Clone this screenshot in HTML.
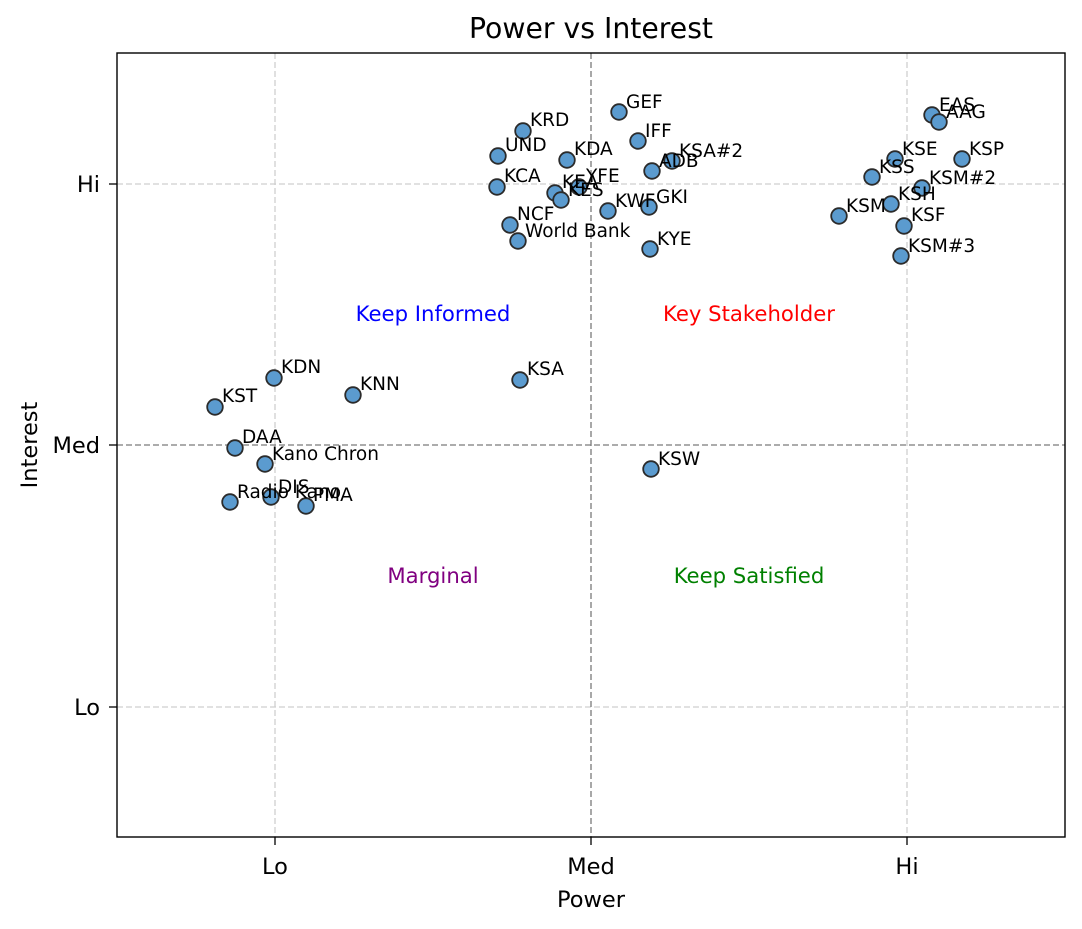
<!DOCTYPE html>
<html><head><meta charset="utf-8"><style>
html,body{margin:0;padding:0;background:#fff}
svg{display:block;font-family:"DejaVu Sans","Liberation Sans",sans-serif}
</style></head><body>
<svg width="1082" height="929" viewBox="0 0 1082 929" xmlns="http://www.w3.org/2000/svg">
<rect width="1082" height="929" fill="#fff"/>
<g stroke="#cfcfcf" stroke-width="1.3" stroke-dasharray="6,3">
<line x1="275" y1="53" x2="275" y2="837"/>
<line x1="907" y1="53" x2="907" y2="837"/>
<line x1="117" y1="184" x2="1065" y2="184"/>
<line x1="117" y1="707" x2="1065" y2="707"/>
</g>
<g stroke="#7a7a7a" stroke-width="1.3" stroke-dasharray="6,3">
<line x1="591" y1="53" x2="591" y2="837"/>
<line x1="117" y1="445" x2="1065" y2="445"/>
</g>
<g font-size="21.2" text-anchor="middle">
<text x="433" y="321" fill="blue">Keep Informed</text>
<text x="749" y="321" fill="red">Key Stakeholder</text>
<text x="433" y="583" fill="purple">Marginal</text>
<text x="749" y="583" fill="green">Keep Satisfied</text>
</g>
<g fill="#5b9bcf" stroke="#2b2b2b" stroke-width="1.8">
<circle cx="523" cy="131" r="7.8"/><circle cx="498" cy="156" r="7.8"/><circle cx="567" cy="160" r="7.8"/>
<circle cx="497" cy="187" r="7.8"/><circle cx="555" cy="193" r="7.8"/><circle cx="561" cy="200" r="7.8"/>
<circle cx="579" cy="187" r="7.8"/><circle cx="510" cy="225" r="7.8"/><circle cx="518" cy="241" r="7.8"/>
<circle cx="619" cy="112" r="7.8"/><circle cx="638" cy="141" r="7.8"/><circle cx="672" cy="161" r="7.8"/>
<circle cx="652" cy="171" r="7.8"/><circle cx="608" cy="211" r="7.8"/><circle cx="649" cy="207" r="7.8"/>
<circle cx="650" cy="249" r="7.8"/>
<circle cx="932" cy="115" r="7.8"/><circle cx="939" cy="122" r="7.8"/><circle cx="895" cy="159" r="7.8"/>
<circle cx="962" cy="159" r="7.8"/><circle cx="872" cy="177" r="7.8"/><circle cx="922" cy="188" r="7.8"/>
<circle cx="891" cy="204" r="7.8"/><circle cx="839" cy="216" r="7.8"/><circle cx="904" cy="226" r="7.8"/>
<circle cx="901" cy="256" r="7.8"/>
<circle cx="274" cy="378" r="7.8"/><circle cx="215" cy="407" r="7.8"/><circle cx="353" cy="395" r="7.8"/>
<circle cx="520" cy="380" r="7.8"/><circle cx="235" cy="448" r="7.8"/><circle cx="265" cy="464" r="7.8"/>
<circle cx="230" cy="502" r="7.8"/><circle cx="271" cy="497" r="7.8"/><circle cx="306" cy="506" r="7.8"/>
<circle cx="651" cy="469" r="7.8"/>
</g>
<g font-size="18.5" fill="#000">
<text x="530" y="126">KRD</text><text x="505" y="151">UND</text><text x="574" y="155">KDA</text>
<text x="504" y="182">KCA</text><text x="562" y="188">KEA</text><text x="568" y="196">KES</text>
<text x="586" y="182">YFE</text><text x="517" y="220">NCF</text><text x="525" y="237">World Bank</text>
<text x="626" y="108">GEF</text><text x="645" y="137">IFF</text><text x="679" y="157">KSA#2</text>
<text x="659" y="167">ADB</text><text x="615" y="207">KWF</text><text x="656" y="203">GKI</text>
<text x="657" y="245">KYE</text>
<text x="939" y="111">EAS</text><text x="946" y="118">AAG</text><text x="902" y="155">KSE</text>
<text x="969" y="155">KSP</text><text x="879" y="173">KSS</text><text x="929" y="184">KSM#2</text>
<text x="898" y="200">KSH</text><text x="846" y="212">KSM</text><text x="911" y="221">KSF</text>
<text x="908" y="252">KSM#3</text>
<text x="281" y="373">KDN</text><text x="222" y="402">KST</text><text x="360" y="390">KNN</text>
<text x="527" y="375">KSA</text><text x="242" y="443">DAA</text><text x="272" y="460">Kano Chron</text>
<text x="237" y="498">Radio Kano</text><text x="278" y="493">DIS</text><text x="313" y="501">PMA</text>
<text x="658" y="465">KSW</text>
</g>
<rect x="117" y="53" width="948" height="784" fill="none" stroke="#000" stroke-width="1.4"/>
<g stroke="#000" stroke-width="1.3">
<line x1="275" y1="837" x2="275" y2="845"/><line x1="591" y1="837" x2="591" y2="845"/><line x1="907" y1="837" x2="907" y2="845"/>
<line x1="109" y1="184" x2="117" y2="184"/><line x1="109" y1="445" x2="117" y2="445"/><line x1="109" y1="707" x2="117" y2="707"/>
</g>
<g font-size="22.5" fill="#000">
<text x="275" y="874" text-anchor="middle">Lo</text>
<text x="591" y="874" text-anchor="middle">Med</text>
<text x="907" y="874" text-anchor="middle">Hi</text>
<text x="100" y="192" text-anchor="end">Hi</text>
<text x="100" y="453" text-anchor="end">Med</text>
<text x="100" y="715" text-anchor="end">Lo</text>
<text x="591" y="907" text-anchor="middle">Power</text>
<text transform="translate(37,445) rotate(-90)" text-anchor="middle">Interest</text>
</g>
<text x="591" y="38" font-size="28.3" text-anchor="middle">Power vs Interest</text>
</svg>
</body></html>
